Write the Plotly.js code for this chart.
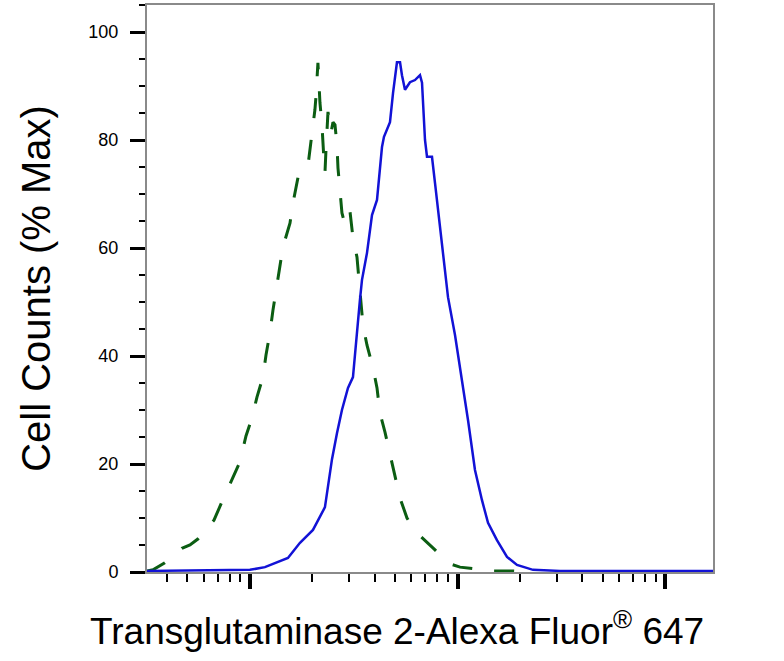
<!DOCTYPE html>
<html>
<head>
<meta charset="utf-8">
<script src="https://cdn.plot.ly/plotly-3.0.1.min.js"></script>
<style>html,body{margin:0;padding:0;background:#fff;}#chart{width:784px;height:661px;}</style>
</head>
<body>
<div id="chart"></div>
<script>
// Isotype control (green dashed)
const controlX = [31.9,34.1,38.9,47.0,51.4,56.1,61.4,67.1,73.3,81.8,89.5,95.7,102.2,108.1,115.5,119.5,124.8,129.1,133.4,139.5,144.2,155.9,161.1,170.3,180.0,190.3,196.8,201.2,205.6,208.0,212.6,217.4,222.3,227.3,229.8,232.4,237.7,245.6,251.2,256.9,262.5,265.6,271.6,277.5,287.1,293.4,303.5,313.6,327.9,338.8,350.4,366.4,391.7,409.4,423.2,447.3,472.8,500.0,528.5,571.0,610.3,659.6,720.9,779.3,841.7,920.5,1028,1149,1283,1466,1851,2234];
const controlY = [0.2,0.4,1.7,4.4,5.0,6.1,7.8,9.6,13.0,17.0,20.4,25.2,28.5,32.4,36.1,40.2,44.3,48.5,52.2,56.5,60.2,64.6,68.3,73.0,73.7,75.2,79.6,81.9,85.6,88.0,94.3,86.9,82.8,76.3,73.9,78.1,85.2,81.3,83.3,82.8,79.1,74.8,71.1,66.5,64.3,66.1,66.7,61.9,58.3,52.2,45.7,42.0,37.8,34.1,29.4,25.9,21.7,18.0,13.7,10.0,8.1,6.7,5.4,4.1,2.8,1.5,0.9,0.7,0.4,0.2,0.2,0.0];

// Transglutaminase 2 stained (blue solid)
const tg2X = [31.9,100,118.1,152.4,174.2,201.2,229.8,248.5,262.6,277.5,296.7,313.6,338.8,346.6,366.4,387.3,409.4,432.7,442.3,462.4,472.8,489.0,510.9,528.5,540.1,558.5,590.2,624.0,659.6,674.5,697.3,712.9,753.4,779.3,823.5,870.7,900.1,972.6,1051,1124,1214,1312,1403,1549,1732,1935,2311,3119,17035];
const tg2Y = [0.2,0.4,0.9,2.6,5.4,7.8,12.0,20.9,25.7,30.0,34.1,36.1,50.4,54.1,59.1,66.1,68.9,78.7,80.6,82.2,83.3,88.7,94.4,94.4,92.0,89.3,90.7,91.1,92.0,90.6,80.0,76.9,76.9,72.0,63.9,56.5,50.9,43.9,35.6,28.1,18.9,13.3,9.1,5.9,2.8,1.3,0.4,0.2,0.2];

const yMajorTicks = [0,20,40,60,80,100];
const xMajorTicks = [100,1000,10000];

const xMinorTicks = [];
[10,100,1000,10000].forEach(function(d){ for (let k=2;k<=9;k++) xMinorTicks.push(d*k); });

const font = 'Liberation Sans, Arial, Helvetica, sans-serif';

const traces = [
  {x: controlX, y: controlY, type: 'scatter', mode: 'lines',
   line: {color: '#0b5d12', width: 3, dash: '20px,22px'}, hoverinfo: 'skip'},
  {x: tg2X, y: tg2Y, type: 'scatter', mode: 'lines',
   line: {color: '#1212d6', width: 2.5}, hoverinfo: 'skip'}
];

const layout = {
  width: 784, height: 661,
  margin: {l: 147, r: 71, t: 5, b: 89, pad: 0},
  paper_bgcolor: '#fff', plot_bgcolor: '#fff',
  showlegend: false,
  font: {family: font, color: '#000'},
  xaxis: {
    type: 'log', range: [1.504, 4.231], autorange: false,
    showgrid: false, zeroline: false,
    showline: true, linecolor: '#8a8a8a', linewidth: 2, mirror: true,
    tickmode: 'array', tickvals: xMajorTicks, showticklabels: false,
    ticks: 'outside', ticklen: 15, tickwidth: 4, tickcolor: '#000',
    minor: {tickmode: 'array', tickvals: xMinorTicks, ticks: 'outside', ticklen: 8, tickwidth: 2, tickcolor: '#000', showgrid: false}
  },
  yaxis: {
    range: [0, 105], autorange: false,
    showgrid: false, zeroline: false,
    showline: true, linecolor: '#8a8a8a', linewidth: 2, mirror: true,
    tickmode: 'array', tickvals: yMajorTicks,
    ticks: 'outside', ticklen: 15, tickwidth: 3, tickcolor: '#000',
    tickfont: {family: font, size: 18, color: '#000'},
    ticklabelstandoff: 8,
    minor: {dtick: 5, tick0: 0, ticks: 'outside', ticklen: 6, tickwidth: 2, tickcolor: '#000', showgrid: false},
    title: {text: 'Cell Counts (% Max)', font: {family: font, size: 40, color: '#000'}, standoff: 25}
  },
  annotations: [{
    text: 'Transglutaminase 2-Alexa Fluor<sup>®</sup> 647',
    xref: 'paper', yref: 'paper', x: 0.441, y: -0.099,
    xanchor: 'center', yanchor: 'middle', showarrow: false,
    font: {family: font, size: 37, color: '#000'}
  }]
};

Plotly.newPlot('chart', traces, layout, {displayModeBar: false, staticPlot: true});
</script>
</body>
</html>
